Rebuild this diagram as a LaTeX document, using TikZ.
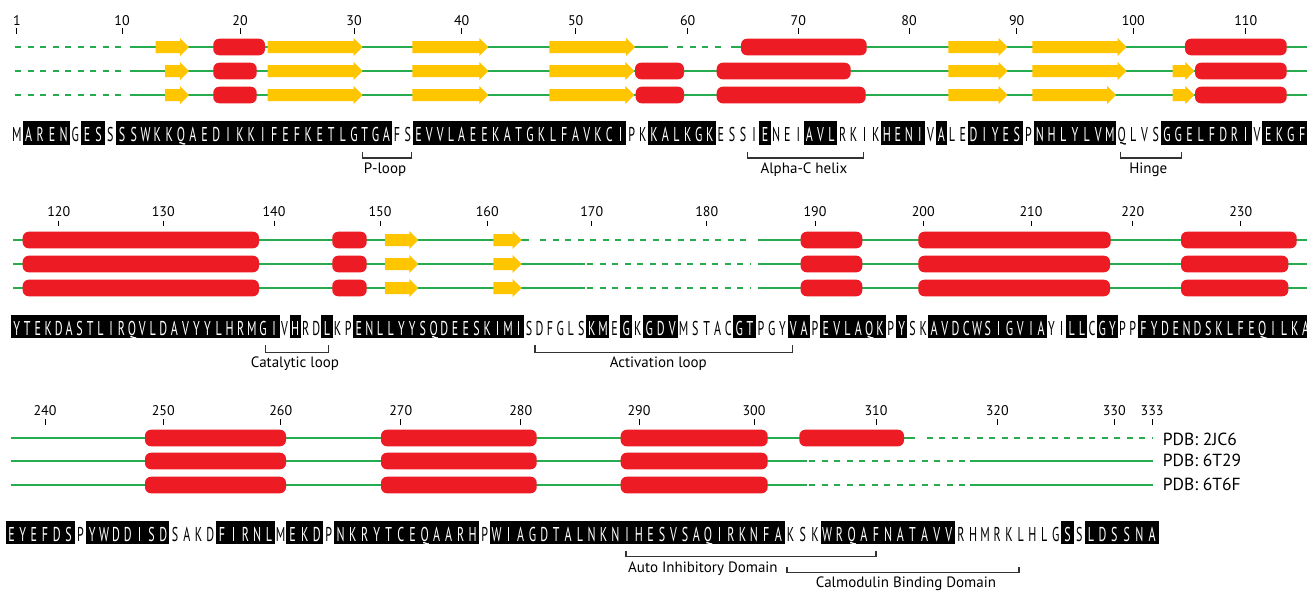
\documentclass[tikz,border=0pt]{standalone}
\usepackage{fontspec}
\usepackage{tikz}
\usetikzlibrary{calc,positioning}
\newfontfamily\lblfont{PT Sans}
\newfontfamily\seqfont[FakeStretch=0.6]{PT Sans}
\definecolor{helixR}{RGB}{237,28,36}
\definecolor{sheetY}{RGB}{255,198,0}
\definecolor{coilG}{RGB}{38,172,78}

% x of the decade ticks in each row (first entry: residue 0, 110, 230)
\def\ticksA{{5.3,122,240,354,461.7,575.7,687.7,798.3,909,1016.7,1133.3,1245.7,1358.7}}
\def\ticksB{{-46,58.7,163.3,274,380,487.3,591.7,706.7,815,923.3,1031,1132.7,1240.7,1348.7}}
\def\ticksC{{-66,45,163.3,280.7,400.7,520.7,639,754,876,997.3,1114.3,1240.3}}
% \resx{ticks}{decade offset}{residue} -> \rx (centre) and \rw (slot)
\newcommand\resx[3]{%
  \pgfmathtruncatemacro\dk{floor(#3/10)-#2}%
  \pgfmathtruncatemacro\dn{\dk+1}%
  \pgfmathsetmacro\ra{#1[\dk]}%
  \pgfmathsetmacro\rb{#1[\dn]}%
  \pgfmathsetmacro\rw{(\rb-\ra)/10}%
  \pgfmathsetmacro\rx{\ra+\rw*(#3-10*(\dk+#2))}}
% beta strand (arrow) and helix on a chain at height #3
\newcommand\strand[3]{\fill[sheet] (#1,#3-6) -- (#2-9,#3-6) -- (#2-9,#3-9) -- (#2,#3)
  -- (#2-9,#3+9) -- (#2-9,#3+6) -- (#1,#3+6) -- cycle;}
\newcommand\helix[3]{\fill[helix] (#1,#3-8.3) rectangle (#2,#3+8.3);}

\begin{document}
\begin{tikzpicture}[x=1pt, y=-1pt,
  aa/.style={font=\seqfont\fontsize{20}{20}\selectfont, text height=20.5pt,
    text depth=3pt, inner sep=0pt},
  aabox/.style={aa, fill=black, text=white},
  coil/.style={draw=coilG, line width=2pt},
  coildash/.style={coil, dash pattern=on 6pt off 6.5pt},
  sheet/.style={fill=sheetY},
  helix/.style={fill=helixR, rounded corners=6pt},
  tickmark/.style={draw=black, line width=1pt},
  brk/.style={draw=black!80, line width=1.2pt},
  num/.style={font=\lblfont\fontsize{14}{14}\selectfont, inner sep=0pt, anchor=base},
  lbl/.style={font=\lblfont\fontsize{15}{15}\selectfont, inner sep=0pt},
  pdb/.style={font=\lblfont\fontsize{17.5}{17.5}\selectfont, inner sep=0pt, anchor=base west}]
  \fill[white] (0,0) rectangle (1307,590);
  \useasboundingbox (0,0) rectangle (1307,590);

  % ---------- row 1: residues 1-115 ----------
  \foreach \n in {1,10,20,...,110} {
    \resx{\ticksA}{0}{\n}
    \node[num] (t\n) at (\rx,25) {\n};
    \draw[tickmark] (\rx,28.3) -- ++(0,6);}
  \foreach \y in {47,71,95} \draw[coildash] (15,\y) -- (125,\y);
  \draw[coil] (130,47) -- (668,47);
  \draw[coildash] (677,47) -- (727,47);
  \draw[coil] (731,47) -- (1307,47);
  \foreach \y in {71,95} \draw[coil] (130,\y) -- (1307,\y);
  % 2JC6
  \foreach \a/\b in {155.7/189,267.7/362.7,412.3/488.3,549.3/635,948.3/1007.7,1032.3/1126.7}
    \strand{\a}{\b}{47};
  \foreach \a/\b in {213.3/265,741/866.7,1185/1286.7} \helix{\a}{\b}{47};
  % 6T29
  \foreach \a/\b in {165/189,267.7/362.7,412.3/488.3,549.3/634.3,948.3/1007.7,1032.3/1126.7,1172.7/1194.3}
    \strand{\a}{\b}{71};
  \foreach \a/\b in {213.3/256.7,635/684,716.7/850.7,1195/1286.7} \helix{\a}{\b}{71};
  % 6T6F
  \foreach \a/\b in {165/189,267.7/362.7,412.3/488.3,549.3/634.3,948.3/1007.7,1032.3/1116,1172.7/1194.3}
    \strand{\a}{\b}{95};
  \foreach \a/\b in {213.3/256.7,635.7/684,716.7/865.7,1195/1286.7} \helix{\a}{\b}{95};
  % sequence
  \foreach \s/\st/\seq in {1/aa/{M},2/aabox/{A,R,E,N},6/aa/{G},7/aabox/{E,S},9/aa/{S},
      10/aabox/{S,S,W,K,K,Q,A,E,D,I,K,K,I,F,E,F,K,E,T,L,G,T,G,A},34/aa/{F,S},
      36/aabox/{E,V,V,L,A,E,E,K,A,T,G,K,L,F,A,V,K,C,I},55/aa/{P,K},57/aabox/{K,A,L,K,G,K},
      63/aa/{E,S,S,I},67/aabox/{E},68/aa/{N,E,I},71/aabox/{A,V,L},74/aa/{R,K,I,K},
      78/aabox/{H,E,N,I},82/aa/{V},83/aabox/{A},84/aa/{L,E},86/aabox/{D,I,Y,E,S},91/aa/{P},
      92/aabox/{N,H,L,Y,L,V,M},99/aa/{Q,L,V,S},103/aabox/{G,G,E,L,F,D,R,I},111/aa/{V},
      112/aabox/{E,K,G,F}}
    \foreach \rl [count=\kk] in \seq {
      \pgfmathtruncatemacro\n{\s+\kk-1}
      \resx{\ticksA}{0}{\n}
      \node[\st, minimum width=\rw+0.6] (r\n) at (\rx,133) {\rl};}
  % motifs
  \coordinate (ploop-a) at (362.3,151.7); \coordinate (ploop-b) at (411.7,151.7);
  \draw[brk] (ploop-a) -- ++(0,6.3) -| (ploop-b);
  \node[lbl, anchor=north] (ploop) at (385,162.5) {P-loop};
  \coordinate (achx-a) at (747.3,151.7); \coordinate (achx-b) at (863.3,151.7);
  \draw[brk] (achx-a) -- ++(0,6.3) -| (achx-b);
  \node[lbl, anchor=north] (achx) at (804,162.5) {Alpha-C helix};
  \coordinate (hinge-a) at (1120.7,151.7); \coordinate (hinge-b) at (1181.7,151.7);
  \draw[brk] (hinge-a) -- ++(0,6.3) -| (hinge-b);
  \node[lbl, anchor=north] (hinge) at (1148.3,162.5) {Hinge};

  % ---------- row 2: residues 116-236 ----------
  \foreach \n in {120,130,...,230} {
    \resx{\ticksB}{11}{\n}
    \node[num] (t\n) at (\rx,216) {\n};
    \draw[tickmark] (\rx,220.5) -- ++(0,5.5);}
  \draw[coil] (13.3,240) -- (529.3,240);
  \draw[coildash] (540,240) -- (748.3,240);
  \foreach \y in {264,288} {
    \draw[coil] (13.3,\y) -- (585,\y);
    \draw[coildash] (587,\y) -- (750,\y);}
  \foreach \y in {240,264,288} {
    \draw[coil] (758.3,\y) -- (1307,\y);
    \foreach \a/\b in {385/418.3,493.3/521.7} \strand{\a}{\b}{\y};
    \foreach \a/\b in {22.7/259,332.3/366.7,800.7/862.3} \helix{\a}{\b}{\y};}
  \helix{918.3}{1110.7}{240}
  \helix{1181}{1296.7}{240}
  \foreach \y in {264,288} {\helix{918.3}{1110}{\y} \helix{1181}{1288.3}{\y}}
  % sequence
  \foreach \s/\st/\seq in {116/aabox/{Y,T,E,K,D,A,S,T,L,I,R,Q,V,L,D,A,V,Y,Y,L,H,R,M,G,I},
      141/aa/{V},142/aabox/{H},143/aa/{R,D},145/aabox/{L},146/aa/{K,P},
      148/aabox/{E,N,L,L,Y,Y,S,Q,D,E,E,S,K,I,M,I},164/aa/{S,D,F,G,L,S},170/aabox/{K,M},
      172/aa/{E},173/aabox/{G},174/aa/{K},175/aabox/{G,D,V},178/aa/{M,S,T,A,C},
      183/aabox/{G,T},185/aa/{P,G,Y},188/aabox/{V,A},190/aa/{P},191/aabox/{E,V,L,A,Q,K},
      197/aa/{P},198/aabox/{Y},199/aa/{S,K},201/aabox/{A,V,D,C,W,S,I,G,V,I,A},
      212/aa/{Y,I},214/aabox/{L,L},216/aa/{C},217/aabox/{G,Y},219/aa/{P,P},
      221/aabox/{F,Y,D,E,N,D,S,K,L,F,E,Q,I,L,K,A}}
    \foreach \rl [count=\kk] in \seq {
      \pgfmathtruncatemacro\n{\s+\kk-1}
      \resx{\ticksB}{11}{\n}
      \node[\st, minimum width=\rw+0.6] (r\n) at (\rx,326.3) {\rl};}
  % motifs
  \coordinate (cat-a) at (265.7,345); \coordinate (cat-b) at (328.3,345);
  \draw[brk] (cat-a) -- ++(0,7.5) -| (cat-b);
  \node[lbl, anchor=north] (cat) at (295,357) {Catalytic loop};
  \coordinate (act-a) at (535,345); \coordinate (act-b) at (792.3,345);
  \draw[brk] (act-a) -- ++(0,7.5) -| (act-b);
  \node[lbl, anchor=north] (act) at (658.3,357) {Activation loop};

  % ---------- row 3: residues 237-333 ----------
  \foreach \n in {240,250,...,330,333} {
    \resx{\ticksC}{23}{\n}
    \node[num] (t\n) at (\rx,415) {\n};
    \draw[tickmark] (\rx,419) -- ++(0,5.5);}
  \draw[coil] (10.7,438) -- (915,438);
  \draw[coildash] (926.7,438) -- (1153.3,438);
  \foreach \y in {461,485} {
    \draw[coil] (10.7,\y) -- (806.7,\y);
    \draw[coildash] (809,\y) -- (965,\y);
    \draw[coil] (970,\y) -- (1153.3,\y);}
  \foreach \y in {438,461,485}
    \foreach \a/\b in {145/286,381/536.7,620.7/767.7} \helix{\a}{\b}{\y};
  \helix{799.3}{904}{438}
  \node[pdb] (pdb1) at (1162.7,445) {PDB: 2JC6};
  \node[pdb] (pdb2) at (1162.7,466.7) {PDB: 6T29};
  \node[pdb] (pdb3) at (1162.7,490.7) {PDB: 6T6F};
  % sequence
  \foreach \s/\st/\seq in {237/aabox/{E,Y,E,F,D,S},243/aa/{P},244/aabox/{Y,W,D,D,I,S,D},
      251/aa/{S,A,K,D},255/aabox/{F,I,R,N,L},260/aa/{M},261/aabox/{E,K,D},264/aa/{P},
      265/aabox/{N,K,R,Y,T,C,E,Q,A,A,R,H},277/aa/{P},
      278/aabox/{W,I,A,G,D,T,A,L,N,K,N,I,H,E,S,V,S,A,Q,I,R,K,N,F,A},303/aa/{K,S,K},
      306/aabox/{W,R,Q,A,F,N,A,T,A,V,V},317/aa/{R,H,M,R,K,L,H,L,G},326/aabox/{S},
      327/aa/{S},328/aabox/{L,D,S,S,N,A}}
    \foreach \rl [count=\kk] in \seq {
      \pgfmathtruncatemacro\n{\s+\kk-1}
      \resx{\ticksC}{23}{\n}
      \node[\st, minimum width=\rw+0.6] (r\n) at (\rx,532.5) {\rl};}
  % domains
  \coordinate (aid-a) at (626,550.7); \coordinate (aid-b) at (876,550.7);
  \draw[brk] (aid-a) -- ++(0,6) -| (aid-b);
  \node[lbl, anchor=north west] (aid) at (628,562) {Auto Inhibitory Domain};
  \coordinate (cbd-a) at (787,566.7); \coordinate (cbd-b) at (1019,566.7);
  \draw[brk] (cbd-a) -- ++(0,6) -| (cbd-b);
  \node[lbl, anchor=north] (cbd) at (906,577) {Calmodulin Binding Domain};
\end{tikzpicture}
\end{document}
